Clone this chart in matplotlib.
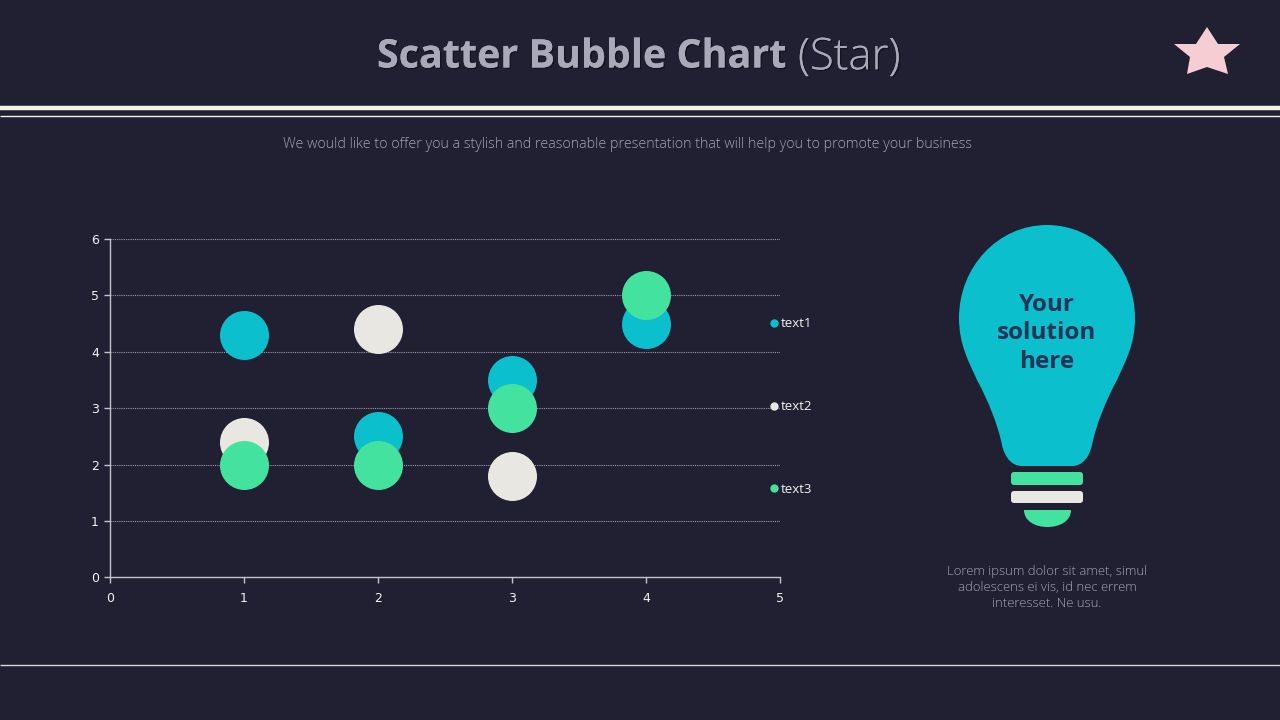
import matplotlib
matplotlib.use('Agg')
import matplotlib.pyplot as plt
import matplotlib.patheffects as pe
from matplotlib.lines import Line2D
from matplotlib.patches import FancyBboxPatch, PathPatch, Polygon
from matplotlib.path import Path

x1 = [1, 2, 3, 4]
y1 = [4.3, 2.5, 3.5, 4.5]
x2 = [1, 2, 3]
y2 = [2.4, 4.4, 1.8]
x3 = [1, 2, 3, 4]
y3 = [2, 2, 3, 5]
labels = ['text1', 'text2', 'text3']
xticks = [0, 1, 2, 3, 4, 5]
yticks = [0, 1, 2, 3, 4, 5, 6]

BG = '#202032'
TEAL = '#0bbfcd'
CREAM = '#e9e7e2'
GREEN = '#43e39f'
GREY = '#a4a4b2'
FONT = 'Open Sans'

fig = plt.figure(figsize=(12.8, 7.2), dpi=100, facecolor=BG)

# page decoration, drawn in pixel coordinates
bg = fig.add_axes([0, 0, 1, 1], zorder=0)
bg.set_xlim(0, 1280)
bg.set_ylim(720, 0)
bg.axis('off')

bg.plot([0, 1280], [108, 108], color='#f4f2ec', lw=3.2, solid_capstyle='butt')
bg.plot([0, 1280], [116, 116], color='#f4f2ec', lw=1, solid_capstyle='butt')
bg.plot([0, 1280], [665, 665], color='#d8d8dc', lw=1, solid_capstyle='butt')

t1 = bg.text(377, 57, 'Scatter Bubble Chart', color='#a9a9ba', fontsize=28.4, family=FONT,
             weight='bold', ha='left', va='center')
t2 = bg.text(798, 58, '(Star)', color='#a9a9ba', fontsize=31.5, family=FONT,
             weight='light', ha='left', va='center')
for t in (t1, t2):
    t.set_path_effects([pe.withSimplePatchShadow(offset=(1, -1), shadow_rgbFace='black', alpha=0.4),
                        pe.Normal()])

bg.text(627.5, 144, 'We would like to offer you a stylish and reasonable presentation that will help you to promote your business',
        color=GREY, fontsize=10.3, family=FONT, weight='light', ha='center', va='center')

star = [(1207, 27), (1218, 44), (1240, 44), (1224, 57), (1228, 74),
        (1207, 67), (1187, 74), (1190, 57), (1174, 44), (1196, 44)]
bg.add_patch(Polygon(star, closed=True, fc='#f6cdd3', ec='none'))

# light bulb
bulb = [(1047, 225),
        (1096, 225), (1135, 267), (1135, 318),
        (1135, 345), (1125, 362), (1117, 380),
        (1106, 400), (1096, 425), (1092, 445),
        (1089, 458), (1082, 466), (1072, 466),
        (1022, 466),
        (1012, 466), (1005, 458), (1002, 445),
        (998, 425), (988, 400), (977, 380),
        (969, 362), (959, 345), (959, 318),
        (959, 267), (998, 225), (1047, 225)]
codes = [Path.MOVETO] + [Path.CURVE4] * 12 + [Path.LINETO] + [Path.CURVE4] * 12
bg.add_patch(PathPatch(Path(bulb, codes), fc=TEAL, ec='none'))
bg.add_patch(FancyBboxPatch((1014, 475), 66, 7, boxstyle='round,pad=3', fc=GREEN, ec='none'))
bg.add_patch(FancyBboxPatch((1014, 494), 66, 6, boxstyle='round,pad=3', fc=CREAM, ec='none'))
cap = [(1024, 510), (1071, 510), (1071, 521), (1060, 527), (1047.5, 527),
       (1035, 527), (1024, 521), (1024, 510), (1024, 510)]
capcodes = [Path.MOVETO, Path.LINETO, Path.CURVE4, Path.CURVE4, Path.CURVE4,
            Path.CURVE4, Path.CURVE4, Path.CURVE4, Path.CLOSEPOLY]
bg.add_patch(PathPatch(Path(cap, capcodes), fc=GREEN, ec='none'))

for yy, s in zip([305, 333, 361.5], ['Your', 'solution', 'here']):
    bg.text(1047, yy, s, color='#233457', fontsize=17.5, family=FONT, weight='bold',
            ha='center', va='center')
for yy, s in zip([571.5, 587.5, 603.5], ['Lorem ipsum dolor sit amet, simul',
                                         'adolescens ei vis, id nec errem',
                                         'interesset. Ne usu.']):
    bg.text(1047, yy, s, color=GREY, fontsize=9.45, family=FONT, weight='light', ha='center', va='center')

# chart
ax = fig.add_axes([110 / 1280, 1 - 577.4 / 720, 670 / 1280, 338.4 / 720], zorder=1)
ax.set_facecolor('none')
ax.set_xlim(0, 5)
ax.set_ylim(0, 6)
ax.set_xticks(xticks)
ax.set_yticks(yticks)
ax.grid(axis='y', color='#9c9ca8', lw=0.8, ls=(0, (1, 1)))
ax.set_axisbelow(True)
for side in ('top', 'right'):
    ax.spines[side].set_visible(False)
for side in ('left', 'bottom'):
    ax.spines[side].set_color('#c4c4ce')
    ax.spines[side].set_linewidth(1)
ax.tick_params(colors='#c4c4ce', labelcolor='#f2f2f2', labelsize=9, length=4, width=1, pad=4)
ax.tick_params(axis='x', pad=6.5)

ax.scatter(x1, y1, s=1245, color=TEAL, linewidths=0, zorder=3, clip_on=False)
ax.scatter(x2, y2, s=1245, color=CREAM, linewidths=0, zorder=4, clip_on=False)
ax.scatter(x3, y3, s=1245, color=GREEN, linewidths=0, zorder=5, clip_on=False)

handles = [Line2D([], [], ls='none', marker='o', ms=6, mew=0, color=c) for c in (TEAL, CREAM, GREEN)]
leg = ax.legend(handles, labels, loc='center left', bbox_to_anchor=(0.9795, 0.5045), frameon=False,
                labelcolor='#f2f2f2', labelspacing=5.3, handletextpad=-0.1,
                handlelength=1.2, borderpad=0, borderaxespad=0,
                prop={'family': FONT, 'size': 9.5})

fig.savefig('out.png', dpi=100, facecolor=BG)
